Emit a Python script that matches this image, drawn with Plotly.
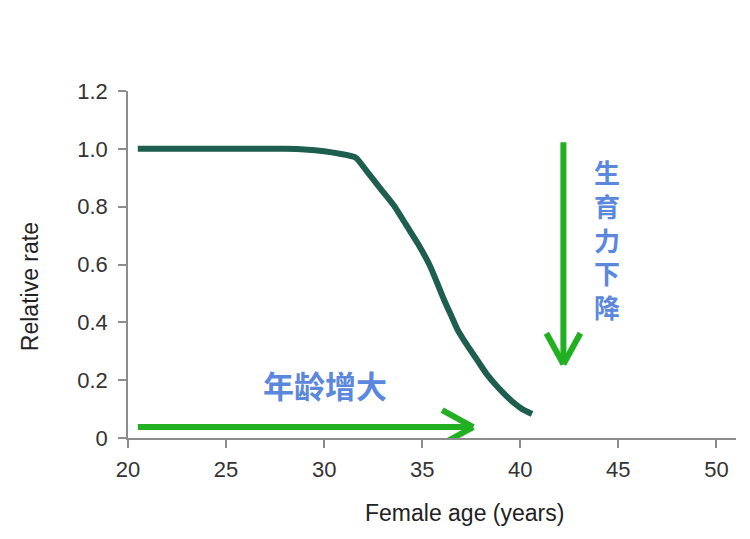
import plotly.graph_objects as go

# curve
ages = [20.5, 22, 24, 26, 28, 29, 30, 30.8, 31.6, 32.2, 32.9, 33.6, 34.2,
        34.8, 35.4, 35.8, 36.1, 36.5, 36.8, 37.3, 37.8, 38.3, 38.8, 39.3,
        39.7, 40.1, 40.6]
rates = [1.0, 1.0, 1.0, 1.0, 1.0, 0.998, 0.992, 0.983, 0.97, 0.92, 0.86,
         0.80, 0.735, 0.67, 0.595, 0.53, 0.48, 0.42, 0.375, 0.32, 0.27,
         0.22, 0.18, 0.145, 0.12, 0.10, 0.083]

x_ticks = [20, 25, 30, 35, 40, 45, 50]
y_ticks = [0, 0.2, 0.4, 0.6, 0.8, 1.0, 1.2]
y_tick_text = ["0", "0.2", "0.4", "0.6", "0.8", "1.0", "1.2"]

# arrows: (x0, y0) -> (x1, y1)
age_arrow_x = [20.5, 37.6]
age_arrow_y = [0.038, 0.038]
fert_arrow_x = [42.2, 42.2]
fert_arrow_y = [1.023, 0.255]

age_label = "年龄增大"
fert_label = "生育力下降"

X_RANGE = [20, 51]
Y_RANGE = [0, 1.2]
# page body adds 8px, so the figure is a bit smaller than the window
W, H = 742, 531
M = dict(l=120, r=14, t=83, b=101)

px_x = (W - M["l"] - M["r"]) / (X_RANGE[1] - X_RANGE[0])
px_y = (H - M["t"] - M["b"]) / (Y_RANGE[1] - Y_RANGE[0])

CURVE = "#1e5e4f"
GREEN = "#22b022"
BLUE = "#5b87dc"
AXIS = "#8c8c8c"


def arrow_head(xs, ys, back=31, half=17):
    # open chevron at the end of the arrow, sized in pixels
    dx = (xs[1] - xs[0]) * px_x
    dy = (ys[1] - ys[0]) * px_y
    n = (dx ** 2 + dy ** 2) ** 0.5
    ux, uy = dx / n, dy / n
    hx, hy = [], []
    for s in (1, -1):
        bx = -ux * back - uy * half * s
        by = -uy * back + ux * half * s
        hx += [xs[1] + bx / px_x, xs[1], None]
        hy += [ys[1] + by / px_y, ys[1], None]
    return hx, hy


fig = go.Figure()

fig.add_trace(
    go.Scatter(
        x=ages,
        y=rates,
        mode="lines",
        line=dict(color=CURVE, width=6, shape="spline", smoothing=0.6),
        cliponaxis=False,
        hoverinfo="skip",
    )
)

for xs, ys in [(age_arrow_x, age_arrow_y), (fert_arrow_x, fert_arrow_y)]:
    hx, hy = arrow_head(xs, ys)
    fig.add_trace(
        go.Scatter(
            x=xs + [None] + hx,
            y=ys + [None] + hy,
            mode="lines",
            line=dict(color=GREEN, width=6),
            cliponaxis=False,
            hoverinfo="skip",
        )
    )

annotations = [
    dict(
        x=30.05, y=0.185, xref="x", yref="y",
        text=age_label, showarrow=False,
        font=dict(family="Noto Sans CJK SC", size=31, color=BLUE, weight="bold"),
    ),
    dict(
        x=44.4, y=0.687, xref="x", yref="y",
        text="<br>".join(fert_label), showarrow=False,
        font=dict(family="Noto Sans CJK SC", size=26, color=BLUE, weight="bold"),
    ),
    dict(
        x=0.553, y=-0.216, xref="paper", yref="paper",
        xanchor="center", yanchor="middle",
        text="Female age (years)", showarrow=False,
        font=dict(family="Liberation Sans", size=23, color="#222222"),
    ),
    dict(
        x=-0.161, y=0.435, xref="paper", yref="paper",
        xanchor="center", yanchor="middle",
        text="Relative rate", showarrow=False, textangle=-90,
        font=dict(family="Liberation Sans", size=23, color="#222222"),
    ),
]

axis_common = dict(
    showline=True,
    linecolor=AXIS,
    linewidth=1.5,
    showgrid=False,
    zeroline=False,
    ticks="outside",
    ticklen=8,
    tickwidth=1.5,
    tickcolor=AXIS,
    tickfont=dict(family="Liberation Sans", size=22, color="#333333"),
)

fig.update_xaxes(range=X_RANGE, tickvals=x_ticks, ticklabelstandoff=3, **axis_common)
fig.update_yaxes(range=Y_RANGE, tickvals=y_ticks, ticktext=y_tick_text,
                 ticklabelstandoff=6, **axis_common)

fig.update_layout(
    width=W,
    height=H,
    margin=M,
    showlegend=False,
    plot_bgcolor="white",
    paper_bgcolor="white",
    annotations=annotations,
)

fig.write_html("out.html")
